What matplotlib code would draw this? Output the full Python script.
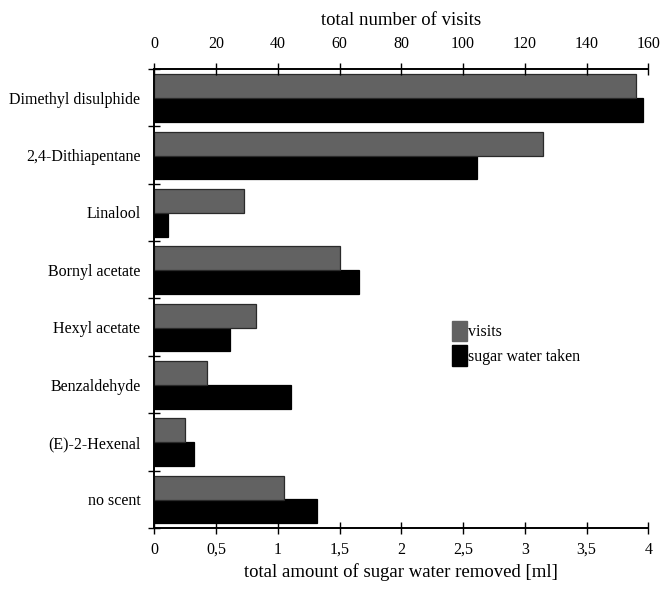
import numpy as np
import matplotlib
matplotlib.use('Agg')
from matplotlib import pyplot as plt
from matplotlib.patches import Patch

plt.rcParams['font.family'] = ['Liberation Serif', 'DejaVu Serif']

scents = ['Dimethyl disulphide', '2,4-Dithiapentane', 'Linalool', 'Bornyl acetate',
          'Hexyl acetate', 'Benzaldehyde', '(E)-2-Hexenal', 'no scent']
visits = [156, 126, 29, 60, 33, 17, 10, 42]             # top axis
sugar = [3.96, 2.61, 0.11, 1.66, 0.61, 1.11, 0.32, 1.315]  # bottom axis, ml

ml_ticks = [0, 0.5, 1, 1.5, 2, 2.5, 3, 3.5, 4]
ml_labels = ['0', '0,5', '1', '1,5', '2', '2,5', '3', '3,5', '4']
visit_ticks = [0, 20, 40, 60, 80, 100, 120, 140, 160]

grey = '#626262'
fs = 11.5

fig = plt.figure(figsize=(6.64, 5.89), dpi=100)
ax = fig.add_axes([0.2324, 0.1036, 0.7440, 0.7793])
ax2 = ax.twiny()

y = np.arange(len(scents))
h = 0.42
ax2.barh(y + 0.30, visits, height=h, color=grey, edgecolor='#2a2a2a', linewidth=0.9)
ax.barh(y + 0.71, sugar, height=h, color='black', edgecolor='black', linewidth=0.9)

ax.set_xlim(0, 4)
ax2.set_xlim(0, 160)
ax.set_ylim(len(scents), 0)

ax.set_xticks(ml_ticks)
ax.set_xticklabels(ml_labels)
ax2.set_xticks(visit_ticks)

# category boundaries get the tick marks, centres get the labels
ax.set_yticks(np.arange(len(scents) + 1))
ax.set_yticklabels([])
ax.set_yticks(y + 0.5, minor=True)
ax.set_yticklabels(scents, minor=True)
ax.tick_params(axis='y', which='minor', length=0, pad=10, labelsize=fs)
ax.tick_params(axis='y', which='major', direction='inout', length=8, width=1)
ax.tick_params(axis='x', direction='inout', length=8, width=1, labelsize=fs, pad=6)
ax2.tick_params(axis='x', direction='inout', length=8, width=1, labelsize=fs, pad=8)

for a in (ax, ax2):
    a.spines['right'].set_visible(False)
    for s in ('top', 'bottom', 'left'):
        a.spines[s].set_linewidth(1.2)

ax.set_xlabel('total amount of sugar water removed [ml]', fontsize=13.5, labelpad=4)
ax2.set_xlabel('total number of visits', fontsize=13.5, labelpad=8)

handles = [Patch(facecolor=grey, edgecolor=grey), Patch(facecolor='black', edgecolor='black')]
ax.legend(handles, ['visits', 'sugar water taken'], loc='upper left',
          bbox_to_anchor=(0.603, 0.452), frameon=False, fontsize=fs,
          handlelength=0.9, handleheight=1.6, handletextpad=0.1, labelspacing=0.25,
          borderaxespad=0, borderpad=0)

fig.savefig('out.png', dpi=100)
